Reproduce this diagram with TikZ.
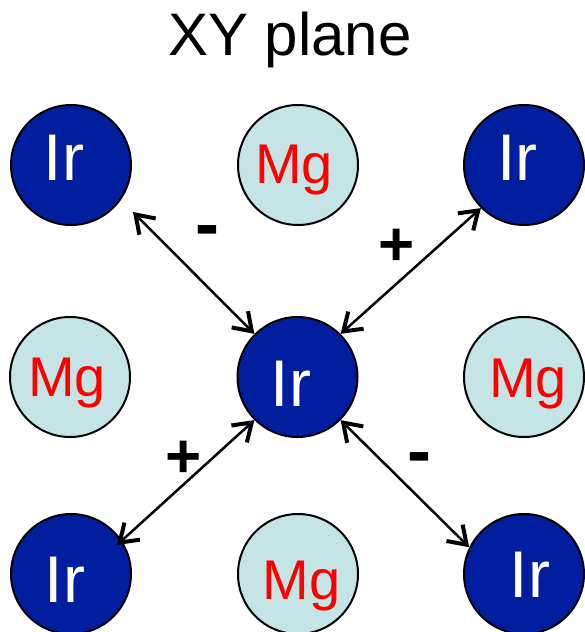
\documentclass[tikz,border=0pt]{standalone}
\usepackage{fontspec}
\setmainfont{Liberation Sans}
\usetikzlibrary{arrows.meta}
\definecolor{irblue}{RGB}{0,30,158}
\definecolor{mgcyan}{RGB}{196,228,230}
\definecolor{mgred}{RGB}{255,0,0}
\tikzset{
  atom/.style={circle,draw=black,line width=2pt,minimum size=120pt,inner sep=0pt},
  ir/.style={atom,fill=irblue},
  mg/.style={atom,fill=mgcyan},
  irtxt/.style={anchor=base,inner sep=0pt,text=white,font=\fontsize{66}{70}\selectfont},
  mgtxt/.style={anchor=base,inner sep=0pt,text=mgred,font=\fontsize{56}{60}\selectfont},
  sign/.style={anchor=center,inner sep=0pt,font=\bfseries\fontsize{62}{66}\selectfont},
  minus/.style={anchor=center,inner sep=0pt,font=\bfseries\fontsize{72}{76}\selectfont},
  bond/.style={line width=2.5pt,{Straight Barb[length=17pt,width=23pt,line width=4pt]}-{Straight Barb[length=17pt,width=23pt,line width=4pt]}}
}
\begin{document}
\begin{tikzpicture}[x=1pt,y=-1pt]
\useasboundingbox (0,0) rectangle (585,632);
% title
\node[anchor=base,inner sep=0pt,font=\fontsize{60}{64}\selectfont] (title) at (290,55) {XY plane};
% atoms
\node[ir] (tl) at (71,165) {};
\node[mg] (tm) at (298,165) {};
\node[ir] (tr) at (524,165) {};
\node[mg] (ml) at (70,377) {};
\node[ir] (c)  at (297.5,377) {};
\node[mg] (mr) at (524,377) {};
\node[ir] (bl) at (71,574) {};
\node[mg] (bm) at (298,574) {};
\node[ir] (br) at (524,574) {};
% labels
\node[irtxt] (tlt) at (63.9,180) {Ir};
\node[irtxt] (trt) at (517.4,180) {Ir};
\node[irtxt] (ct)  at (290.9,406.5) {Ir};
\node[irtxt] (blt) at (64.9,602) {Ir};
\node[irtxt] (brt) at (529.9,597) {Ir};
\node[mgtxt] (tmt) at (294,183.5) {Mg};
\node[mgtxt] (mlt) at (67,396) {Mg};
\node[mgtxt] (mrt) at (528,397) {Mg};
\node[mgtxt] (bmt) at (301.5,599.5) {Mg};
% arrow end points off the circles
\coordinate (tlend) at (133,212);
\coordinate (blend) at (117,545);
% bonds
\draw[bond] (tlend) -- (c.135);
\draw[bond] (tr.-135) -- (c.45);
\draw[bond] (c.-135) -- (blend);
\draw[bond] (c.-45) -- (br.154);
% signs
\node[minus] (s1) at (207,237) {-};
\node[sign] (s2) at (397,247) {+};
\node[sign] (s3) at (184,459) {+};
\node[minus] (s4) at (419,464) {-};
\end{tikzpicture}
\end{document}
